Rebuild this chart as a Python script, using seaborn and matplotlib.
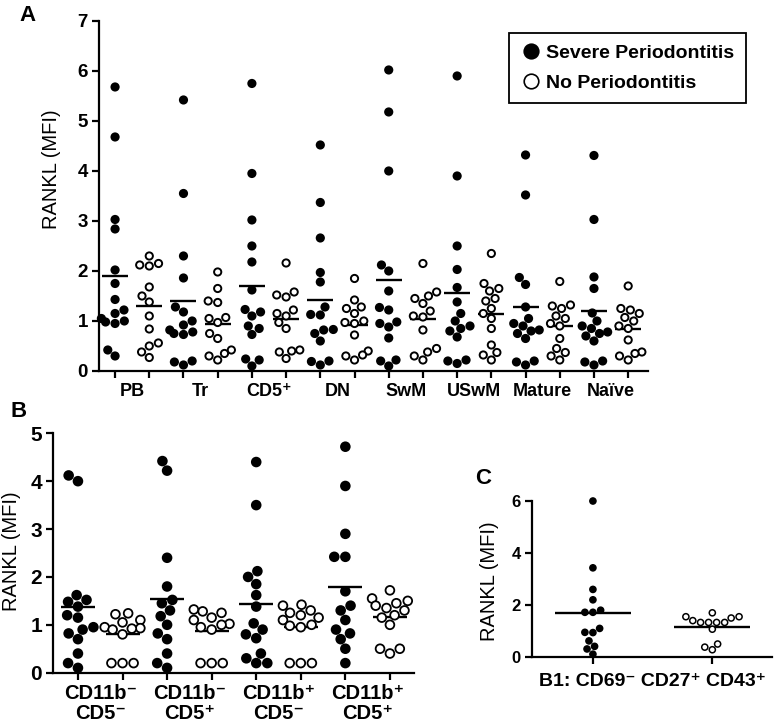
import numpy as np
import pandas as pd
import matplotlib
matplotlib.use("Agg")
import matplotlib.pyplot as plt
import seaborn as sns
from matplotlib.lines import Line2D

# ---------------- data ----------------
groups = ["Severe Periodontitis", "No Periodontitis"]

a_categories = ["PB", "Tr", "CD5⁺", "DN", "SwM", "USwM", "Mature", "Naïve"]
a_severe = [
    [5.68, 4.68, 3.03, 2.84, 2.02, 1.75, 1.43, 1.22, 1.15, 1.05, 1.0, 0.98, 0.95, 0.42, 0.3],
    [5.42, 3.55, 2.3, 1.86, 1.28, 1.18, 1.0, 0.92, 0.82, 0.78, 0.75, 0.73, 0.2, 0.18, 0.12],
    [5.75, 3.95, 3.02, 2.5, 2.18, 1.62, 1.23, 1.18, 1.1, 0.85, 0.9, 0.73, 0.24, 0.22, 0.1],
    [4.52, 3.37, 2.66, 1.97, 1.78, 1.28, 1.13, 1.12, 0.83, 0.82, 0.75, 0.6, 0.2, 0.19, 0.12],
    [6.02, 5.18, 4.0, 2.12, 2.0, 1.6, 1.27, 1.22, 0.95, 0.88, 0.98, 0.66, 0.22, 0.2, 0.1],
    [5.9, 3.9, 2.5, 2.03, 1.67, 1.38, 1.15, 1.0, 0.9, 0.85, 0.8, 0.68, 0.22, 0.2, 0.15],
    [4.32, 3.52, 1.87, 1.73, 1.28, 1.05, 0.95, 0.9, 0.82, 0.8, 0.75, 0.65, 0.2, 0.18, 0.12],
    [4.31, 3.03, 1.88, 1.65, 1.16, 1.0, 0.9, 0.85, 0.78, 0.75, 0.7, 0.6, 0.2, 0.18, 0.12],
]
a_none = [
    [2.3, 2.1, 2.12, 2.15, 1.68, 1.5, 1.38, 1.1, 0.84, 0.56, 0.5, 0.38, 0.27],
    [1.98, 1.65, 1.4, 1.37, 1.07, 1.05, 0.97, 0.75, 0.65, 0.42, 0.35, 0.3, 0.22],
    [2.16, 1.58, 1.52, 1.48, 1.22, 1.15, 1.1, 0.97, 0.85, 0.42, 0.38, 0.4, 0.25],
    [1.85, 1.42, 1.28, 1.25, 1.15, 1.0, 0.97, 0.95, 0.72, 0.4, 0.32, 0.3, 0.22],
    [2.15, 1.58, 1.5, 1.45, 1.35, 1.2, 1.1, 1.08, 0.82, 0.45, 0.38, 0.3, 0.22],
    [2.35, 1.75, 1.65, 1.6, 1.45, 1.4, 1.25, 1.15, 1.05, 0.85, 0.52, 0.37, 0.32, 0.22],
    [1.79, 1.32, 1.3, 1.25, 1.1, 1.05, 0.95, 0.9, 0.65, 0.45, 0.37, 0.3, 0.22],
    [1.7, 1.25, 1.22, 1.15, 1.07, 1.0, 0.9, 0.85, 0.62, 0.38, 0.35, 0.3, 0.22],
]

b_categories = ["CD11b⁻\nCD5⁻", "CD11b⁻\nCD5⁺", "CD11b⁺\nCD5⁻", "CD11b⁺\nCD5⁺"]
b_severe = [
    [4.12, 4.0, 1.62, 1.52, 1.48, 1.38, 1.2, 1.15, 0.95, 0.9, 0.82, 0.7, 0.4, 0.2, 0.1],
    [4.42, 4.22, 2.4, 1.8, 1.52, 1.45, 1.3, 1.18, 1.0, 0.82, 0.7, 0.4, 0.2, 0.1],
    [4.4, 3.5, 2.12, 2.0, 1.85, 1.62, 1.38, 1.03, 0.9, 0.8, 0.72, 0.4, 0.3, 0.2, 0.2],
    [4.72, 3.9, 2.9, 2.42, 2.42, 1.7, 1.4, 1.3, 1.1, 0.9, 0.82, 0.7, 0.5, 0.2],
]
b_none = [
    [1.24, 1.22, 1.1, 1.05, 0.95, 0.93, 0.92, 0.9, 0.8, 0.2, 0.2, 0.2],
    [1.32, 1.28, 1.25, 1.15, 1.1, 1.02, 1.0, 0.95, 0.9, 0.2, 0.2, 0.2],
    [1.42, 1.4, 1.3, 1.25, 1.2, 1.15, 1.1, 1.0, 0.98, 0.95, 0.2, 0.2, 0.2],
    [1.72, 1.55, 1.5, 1.45, 1.4, 1.35, 1.3, 1.2, 1.15, 1.0, 0.5, 0.5, 0.4],
]

c_label = "B1: CD69⁻ CD27⁺ CD43⁺"
c_severe = [6.0, 3.43, 2.6, 2.2, 1.8, 1.72, 1.72, 1.1, 0.95, 0.94, 0.62, 0.41, 0.31, 0.11]
c_none = [1.7, 1.55, 1.55, 1.5, 1.4, 1.33, 1.33, 1.33, 1.33, 1.07, 0.5, 0.38, 0.28]

a_yticks = [0, 1, 2, 3, 4, 5, 6, 7]
b_yticks = [0, 1, 2, 3, 4, 5]
c_yticks = [0, 2, 4, 6]
ylabel = "RANKL (MFI)"

# ---------------- style ----------------
sns.set_theme(style="ticks", rc={
    "axes.edgecolor": "black", "text.color": "black", "axes.labelcolor": "black",
    "xtick.color": "black", "ytick.color": "black",
})
plt.rcParams["font.family"] = ["Liberation Sans", "DejaVu Sans"]

palette = {groups[0]: "black", groups[1]: "white"}


def long_frame(categories, severe, none):
    rows = []
    for cat, s_vals, n_vals in zip(categories, severe, none):
        for g, vals in zip(groups, (s_vals, n_vals)):
            for v in vals:
                rows.append({"slot": f"{cat}|{g}", "grp": g, "val": v})
    return pd.DataFrame(rows)


def draw(ax, df, slots, size, lw, mean_w):
    sns.swarmplot(data=df, x="slot", y="val", hue="grp", order=slots, hue_order=groups,
                  palette=palette, size=size, edgecolor="black", linewidth=lw,
                  legend=False, warn_thresh=1, ax=ax)
    sns.pointplot(data=df, x="slot", y="val", order=slots, estimator="mean", errorbar=None,
                  color="black", markers="_", linestyles="none", markersize=mean_w,
                  markeredgewidth=1.7, ax=ax)
    for c in ax.collections:
        c.set_clip_on(False)


def style(ax, n_slots, xlim, ylim, yticks, tick_fs, cat_labels, cat_fs, cat_pad, linesp=1.0):
    ax.set_xlim(*xlim)
    ax.set_ylim(*ylim)
    ax.set_yticks(yticks)
    ax.set_yticklabels([str(t) for t in yticks], fontsize=tick_fs, fontweight="bold")
    ax.set_xticks(np.arange(n_slots))
    ax.set_xticklabels([""] * n_slots)
    if cat_labels:
        ax.set_xticks(np.arange(0.5, n_slots, 2), minor=True)
        ax.set_xticklabels(cat_labels, minor=True, fontsize=cat_fs, fontweight="bold",
                           linespacing=linesp)
        ax.tick_params(axis="x", which="minor", length=0, pad=cat_pad)
    sns.despine(ax=ax)
    for s in ("left", "bottom"):
        ax.spines[s].set_linewidth(1.6)
    ax.tick_params(which="major", length=5, width=1.6, direction="out", pad=3)
    ax.set_xlabel("")


fig = plt.figure(figsize=(7.77, 7.28), dpi=100)

# ---- Panel A ----
axA = fig.add_axes([0.1274, 0.4904, 0.7066, 0.4808])
dfA = long_frame(a_categories, a_severe, a_none)
slotsA = [f"{c}|{g}" for c in a_categories for g in groups]
draw(axA, dfA, slotsA, size=5.2, lw=1.4, mean_w=19)
style(axA, len(slotsA), (-0.47, 15.58), (0, 7), a_yticks, 13.5, a_categories, 13, 9)
axA.set_ylabel(ylabel, fontsize=14.5)
axA.yaxis.set_label_coords(-0.069, 0.577)

# ---- Panel B ----
axB = fig.add_axes([0.0682, 0.0760, 0.4646, 0.3288])
dfB = long_frame(b_categories, b_severe, b_none)
slotsB = [f"{c}|{g}" for c in b_categories for g in groups]
draw(axB, dfB, slotsB, size=6.3, lw=1.3, mean_w=24)
style(axB, len(slotsB), (-0.56, 7.54), (0, 5), b_yticks, 15, b_categories, 14.5, 8, 1.05)
axB.set_ylabel(ylabel, fontsize=14.5)
axB.yaxis.set_label_coords(-0.089, 0.508)

# ---- Panel C ----
axC = fig.add_axes([0.6847, 0.0975, 0.3089, 0.2143])
dfC = pd.DataFrame({
    "slot": [groups[0]] * len(c_severe) + [groups[1]] * len(c_none),
    "grp": [groups[0]] * len(c_severe) + [groups[1]] * len(c_none),
    "val": c_severe + c_none,
})
draw(axC, dfC, groups, size=4.4, lw=1.1, mean_w=55)
style(axC, 2, (-0.51, 1.5), (0, 6), c_yticks, 12, None, 0, 0)
axC.set_ylabel(ylabel, fontsize=14.5)
axC.yaxis.set_label_coords(-0.1375, 0.487)
axC.set_xlabel(c_label, fontsize=14, fontweight="bold")
axC.xaxis.set_label_coords(0.5, -0.10)

# ---- legend ----
handles = [
    Line2D([], [], marker="o", linestyle="none", markersize=10.5,
           markerfacecolor="black", markeredgecolor="black", markeredgewidth=1.2),
    Line2D([], [], marker="o", linestyle="none", markersize=10.5,
           markerfacecolor="white", markeredgecolor="black", markeredgewidth=1.2),
]
leg = fig.legend(handles, groups, loc="upper right", bbox_to_anchor=(0.960, 0.9547),
                 frameon=True, fancybox=False, edgecolor="black", framealpha=1,
                 prop={"weight": "bold", "size": 14}, handletextpad=0.3,
                 handlelength=1.0, borderpad=0.6, labelspacing=0.6, borderaxespad=0)
leg.get_frame().set_linewidth(1.3)

# ---- panel letters ----
fig.text(19 / 777, 1 - 5 / 728, "A", fontsize=16, fontweight="bold", va="top", ha="left")
fig.text(11 / 777, 1 - 401 / 728, "B", fontsize=16, fontweight="bold", va="top", ha="left")
fig.text(475 / 777, 1 - 468 / 728, "C", fontsize=16, fontweight="bold", va="top", ha="left")

fig.savefig("out.png", dpi=100)
